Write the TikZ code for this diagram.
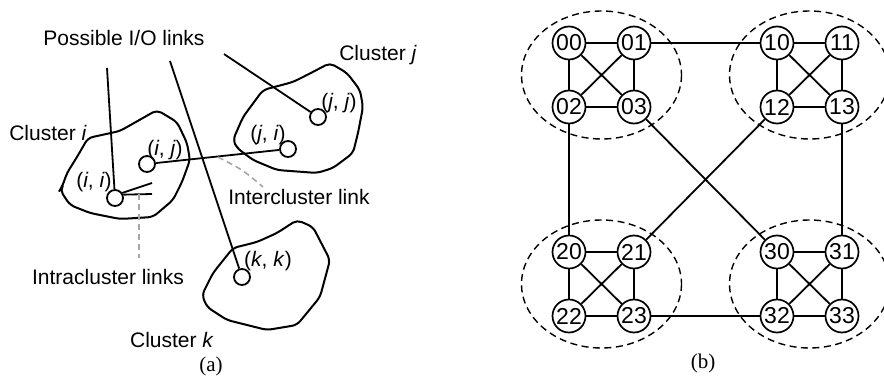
\documentclass[tikz,border=0pt]{standalone}
\usepackage{fontspec}
\setmainfont{Liberation Sans}
\newfontfamily\timesfont{Liberation Serif}
\usetikzlibrary{calc}
\begin{document}
\begin{tikzpicture}[x=1pt,y=-1pt,
  lbl/.style={font=\fontsize{21}{24}\selectfont, inner sep=0pt},
  captext/.style={font=\timesfont\fontsize{21}{24}\selectfont, inner sep=0pt},
  pnode/.style={circle, draw, line width=1.8pt, minimum size=16pt, inner sep=0pt},
  bnode/.style={circle, draw, line width=1.7pt, minimum size=33pt, inner sep=0pt, font=\fontsize{23}{24}\selectfont},
  link/.style={line width=1.8pt},
  blob/.style={line width=2pt, line join=round, rounded corners=5pt},
  gdash/.style={gray!70, line width=1.6pt, dash pattern=on 6pt off 4pt},
  cl/.style={line width=1.4pt, dash pattern=on 7pt off 4.5pt}
]
\useasboundingbox (0,0) rectangle (884,377);
% ---------- (a) ----------
% clusters
\draw[blob] (88,138) -- (120,131) -- (157,110) -- (177,122) -- (187,143) -- (190,160) -- (182,182) -- (173,200) -- (153,217) -- (120,219) -- (90,213) -- (70,205) -- (60,190) -- (62,187) -- (67,173) -- (77,157) -- cycle;
\draw[blob] (233,140) -- (243,117) -- (263,90) -- (293,82) -- (307,75) -- (330,63) -- (347,73) -- (360,90) -- (363,107) -- (358,133) -- (353,153) -- (333,168) -- (317,173) -- (277,170) -- (253,160) -- (237,148) -- cycle;
\draw[blob] (233,248) -- (257,242) -- (277,233) -- (297,220) -- (313,227) -- (330,260) -- (320,297) -- (297,325) -- (267,330) -- (227,320) -- (207,307) -- (202,295) -- (213,273) -- cycle;
% nodes
\node[pnode] (ii) at (115,198) {};
\node[pnode] (ij) at (147,164) {};
\node[pnode] (ji) at (288,149) {};
\node[pnode] (jj) at (318,117) {};
\node[pnode] (kk) at (242,277) {};
% node labels
\node[lbl] (lii) at (94,182) {(\textit{i}, \textit{i})};
\node[lbl] (lij) at (165,150) {(\textit{i}, \textit{j})};
\node[lbl] (lji) at (268,135) {(\textit{j}, \textit{i})};
\node[lbl] (ljj) at (339,103) {(\textit{j}, \textit{j})};
\node[lbl] (lkk) at (268,261) {(\textit{k}, \textit{k})};
% text labels
\node[lbl] (io) at (124,38) {Possible I/O links};
\node[lbl] (ci) at (48,133) {Cluster \textit{i}};
\node[lbl] (cj) at (378,55) {Cluster \textit{j}};
\node[lbl] (ck) at (172,340) {Cluster \textit{k}};
\node[lbl] (intra) at (108,277) {Intracluster links};
\node[lbl] (inter) at (299,197) {Intercluster link};
\node[captext] (capa) at (211,366) {(a)};
% I/O links
\coordinate (io1) at (107,68);
\coordinate (io2) at (170,61);
\coordinate (io3) at (224,54);
\draw[link] (io1) -- (ii);
\draw[link] (io2) -- (kk);
\draw[link] (io3) -- (jj);
% intercluster link
\draw[link] (ij) -- (ji);
% intracluster links
\coordinate (ia) at (152,183);
\coordinate (ib) at (152,194);
\draw[link] (ii.35) -- (ia);
\draw[link] (ii.22) -- (ib);
% gray dashed pointers
\coordinate (g1) at (139,194);
\coordinate (g2) at (139,258);
\draw[gdash] (g1) -- (g2);
\coordinate (g3) at (218,157);
\coordinate (g4) at (263,187);
\draw[gdash] (g3) .. controls (243,170) .. (g4);
% ---------- (b) ----------
\foreach \c/\x/\y in {0/569/43, 1/777/43, 2/569/252, 3/777/252}{
  \node[bnode] (n\c0) at (\x,\y) {\c0};
  \node[bnode] (n\c1) at (\x+65,\y) {\c1};
  \node[bnode] (n\c2) at (\x,\y+64) {\c2};
  \node[bnode] (n\c3) at (\x+65,\y+64) {\c3};
  \draw[link] (n\c0) -- (n\c1);
  \draw[link] (n\c2) -- (n\c3);
  \draw[link] (n\c0) -- (n\c2);
  \draw[link] (n\c1) -- (n\c3);
  \draw[link] (n\c0) -- (n\c3);
  \draw[link] (n\c1) -- (n\c2);
  \draw[cl] (\x+32.5,\y+32) ellipse [x radius=80, y radius=64];
}
\draw[link] (n01) -- (n10);
\draw[link] (n02) -- (n20);
\draw[link] (n13) -- (n31);
\draw[link] (n03) -- (n30);
\draw[link] (n12) -- (n21);
\draw[link] (n23) -- (n32);
\node[captext] (capb) at (703,363) {(b)};
\end{tikzpicture}
\end{document}
